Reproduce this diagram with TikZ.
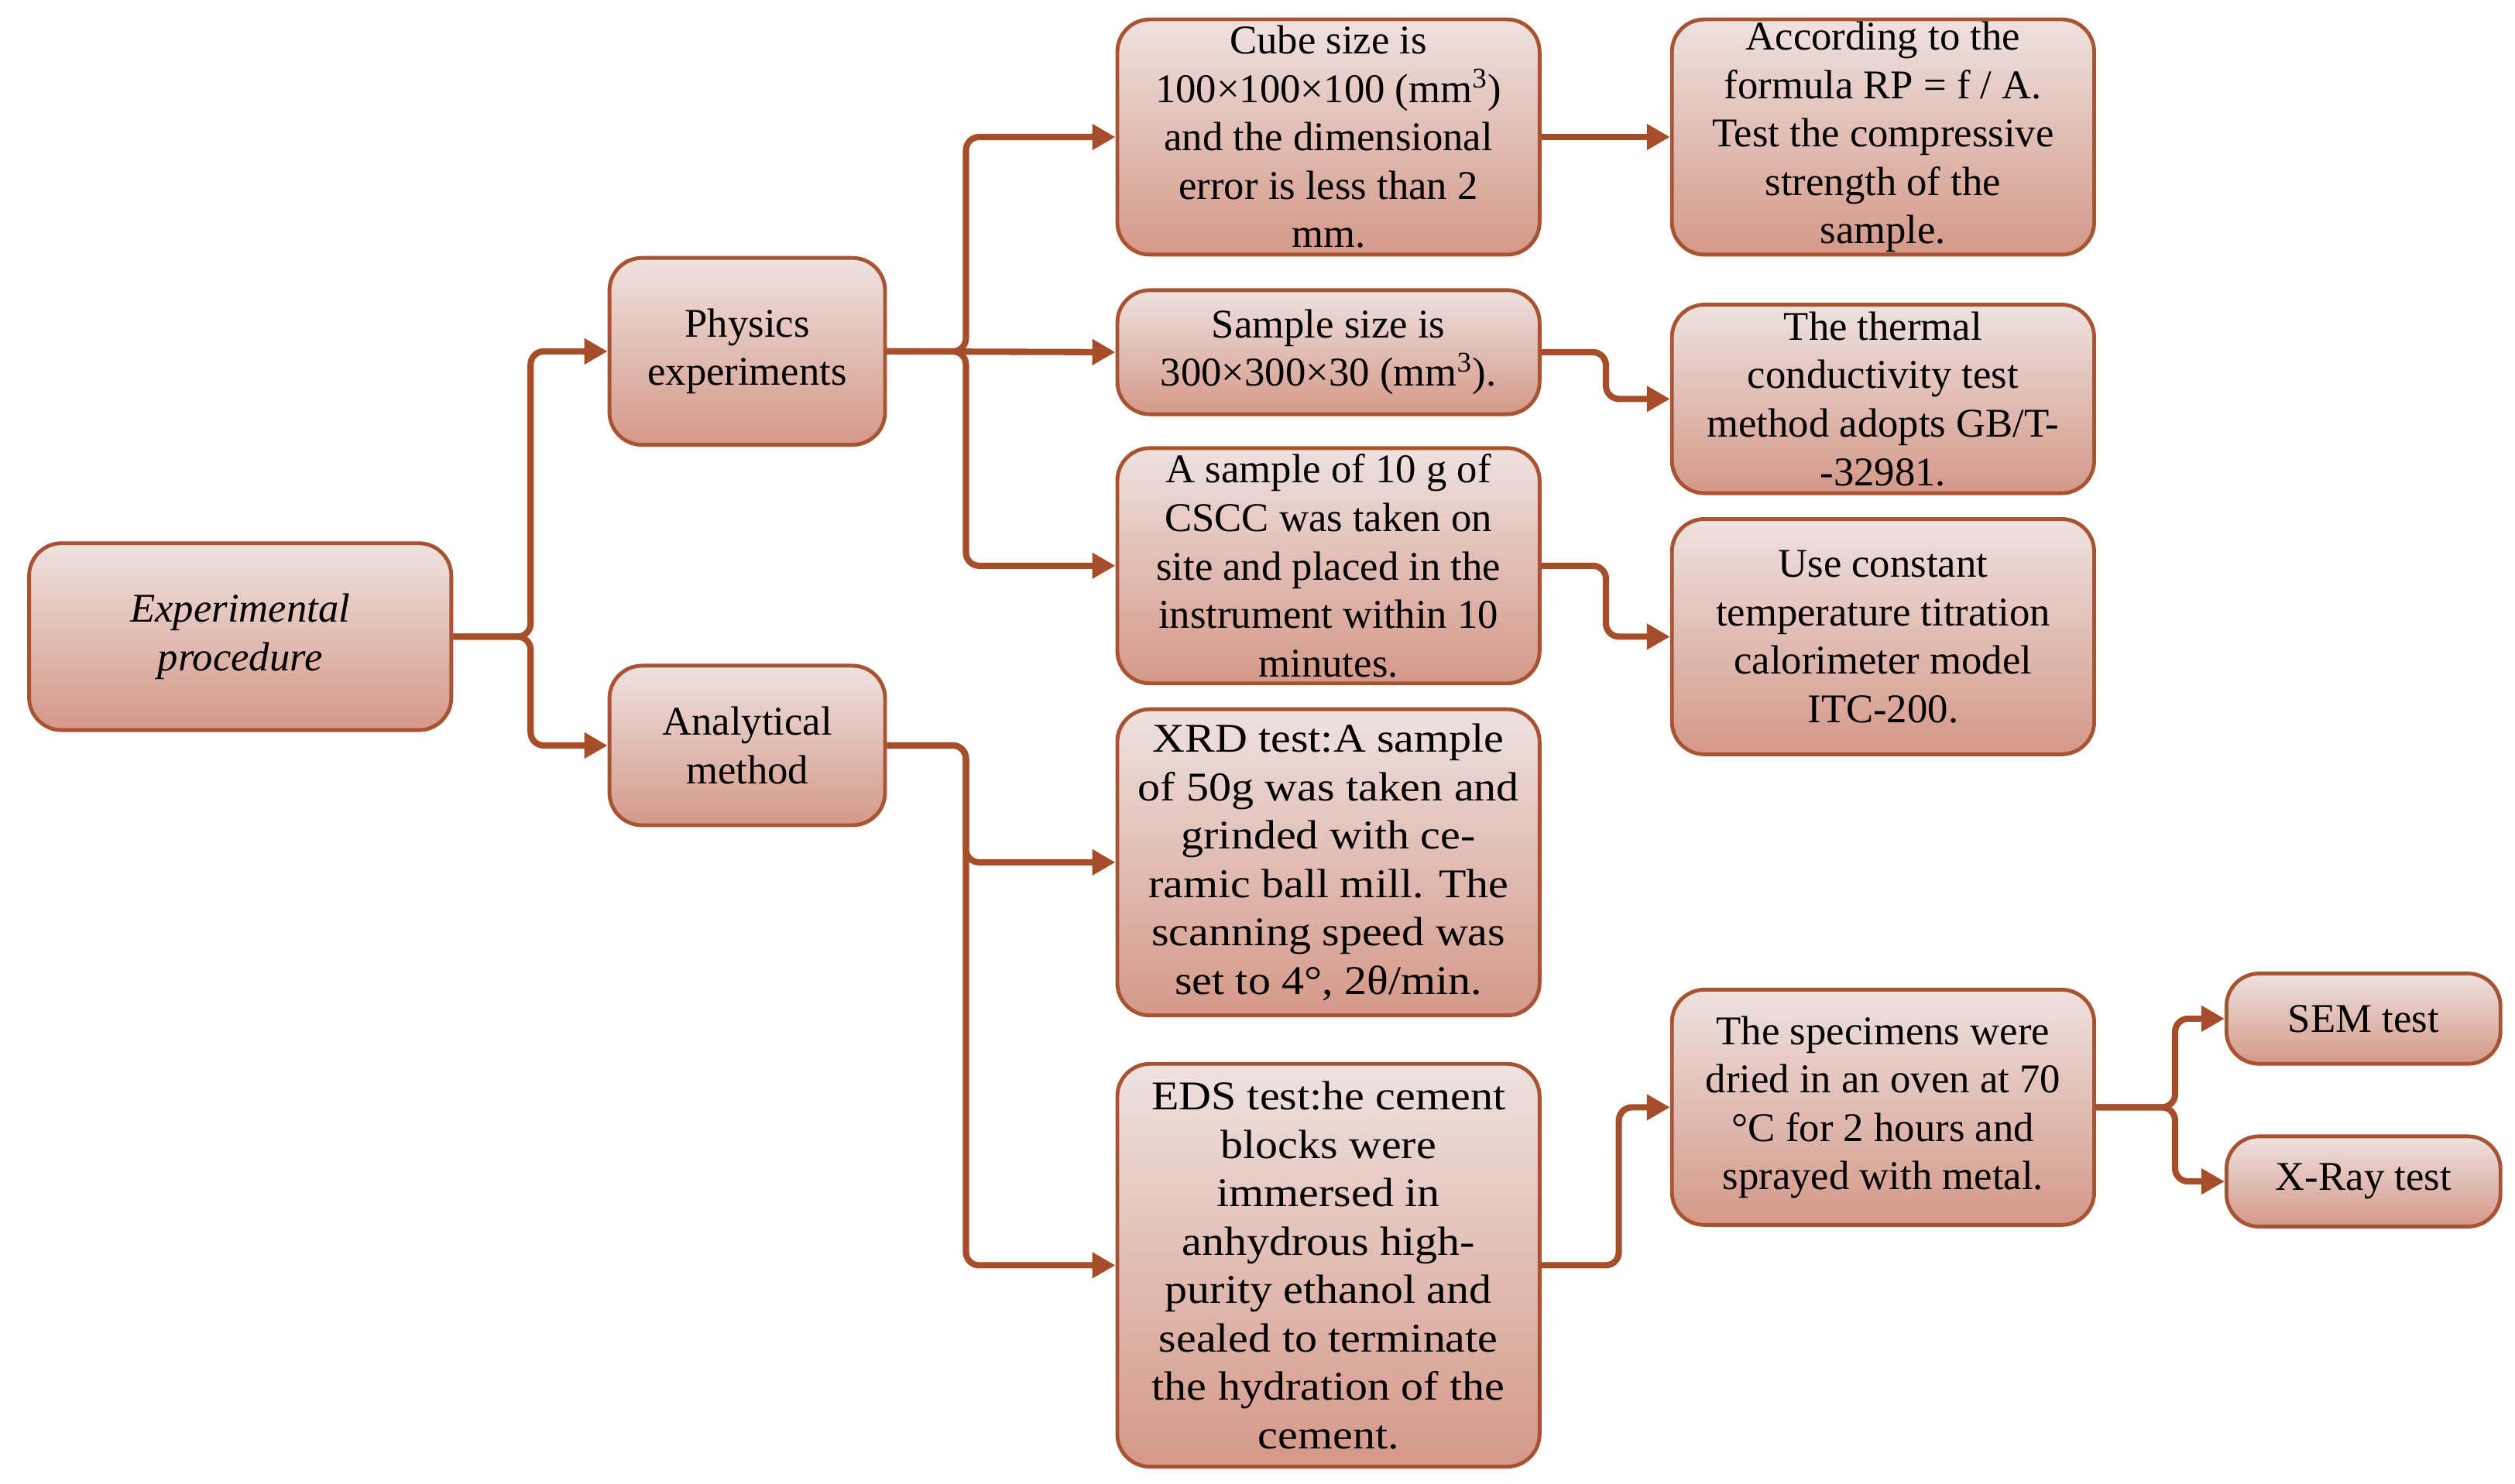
\documentclass[tikz,border=0pt]{standalone}
\usepackage{fontspec}
\setmainfont{Liberation Serif}
\newfontfamily\widefont[FakeStretch=1.1]{Liberation Serif}
\usetikzlibrary{arrows.meta}
\definecolor{bordc}{RGB}{168,84,50}
\definecolor{linec}{RGB}{166,78,42}
\definecolor{topc}{RGB}{238,226,223}
\definecolor{botc}{RGB}{212,152,136}
\begin{document}
\begin{tikzpicture}[x=0.020821cm,y=-0.020821cm,
  box/.style={draw=bordc, line width=1.4pt, rounded corners=0.42cm,
    top color=topc, bottom color=botc, align=center, inner sep=0pt,
    font=\fontsize{15}{17.8}\selectfont, text=black},
  wbox/.style={box, font=\widefont\fontsize{15}{17.8}\selectfont},
  conn/.style={draw=linec, line width=2.3pt, rounded corners=0.17cm,
    -{Triangle[length=0.3cm,width=0.32cm]}}]
\path[use as bounding box, fill=white] (0,0) rectangle (1560,920.7);

\node[box, minimum width=5.455cm, minimum height=2.415cm, font=\itshape\fontsize{15}{17.8}\selectfont] (exp) at (149,395) {Experimental\\procedure};
\node[box, minimum width=3.560cm, minimum height=2.415cm] (phys) at (463.5,218) {Physics\\experiments};
\node[box, minimum width=3.560cm, minimum height=2.061cm] (anal) at (463.5,462.5) {Analytical\\method};

\node[box, minimum width=5.455cm, minimum height=3.040cm] (cube) at (824,85) {Cube size is\\100×100×100 (mm\textsuperscript{3})\\and the dimensional\\error is less than 2\\mm.};
\node[box, minimum width=5.455cm, minimum height=1.603cm] (samp) at (824,218.5) {Sample size is\\300×300×30 (mm\textsuperscript{3}).};
\node[box, minimum width=5.455cm, minimum height=3.040cm] (ten) at (824,351) {A sample of 10 g of\\CSCC was taken on\\site and placed in the\\instrument within 10\\minutes.};
\node[wbox, minimum width=5.455cm, minimum height=3.956cm] (xrd) at (824,535) {XRD test:A sample\\of 50g was taken and\\grinded with ce-\\ramic ball mill. The\\scanning speed was\\set to 4°, 2θ/min.};
\node[wbox, minimum width=5.455cm, minimum height=5.205cm] (eds) at (824,785) {EDS test:he cement\\blocks were\\immersed in\\anhydrous high-\\purity ethanol and\\sealed to terminate\\the hydration of the\\cement.};

\node[box, minimum width=5.455cm, minimum height=3.040cm] (acc) at (1168,85) {According to the\\formula RP = f / A.\\Test the compressive\\strength of the\\sample.};
\node[box, minimum width=5.455cm, minimum height=2.436cm] (therm) at (1168,247.5) {The thermal\\conductivity test\\method adopts GB/T-\\-32981.};
\node[box, minimum width=5.455cm, minimum height=3.040cm] (usec) at (1168,395) {Use constant\\temperature titration\\calorimeter model\\ITC-200.};
\node[box, minimum width=5.455cm, minimum height=3.040cm] (spec) at (1168,687) {The specimens were\\dried in an oven at 70\\°C for 2 hours and\\sprayed with metal.};

\node[box, minimum width=3.540cm, minimum height=1.166cm] (sem) at (1466,632) {SEM test};
\node[box, minimum width=3.540cm, minimum height=1.166cm] (xray) at (1466,733) {X-Ray test};

\draw[conn] (exp.east) -- ++(48,0) |- (phys.west);
\draw[conn] (exp.east) -- ++(48,0) |- (anal.west);
\draw[conn] (phys.east) -- ++(49,0) |- (cube.west);
\draw[conn] (phys.east) -- (samp.west);
\draw[conn] (phys.east) -- ++(49,0) |- (ten.west);
\draw[conn] (anal.east) -- ++(49,0) |- (xrd.west);
\draw[conn] (anal.east) -- ++(49,0) |- (eds.west);
\draw[conn] (cube.east) -- (acc.west);
\draw[conn] (samp.east) -- ++(40,0) |- (therm.west);
\draw[conn] (ten.east) -- ++(40,0) |- (usec.west);
\draw[conn] (eds.east) -- ++(48,0) |- (spec.west);
\draw[conn] (spec.east) -- ++(49,0) |- (sem.west);
\draw[conn] (spec.east) -- ++(49,0) |- (xray.west);
\end{tikzpicture}
\end{document}
